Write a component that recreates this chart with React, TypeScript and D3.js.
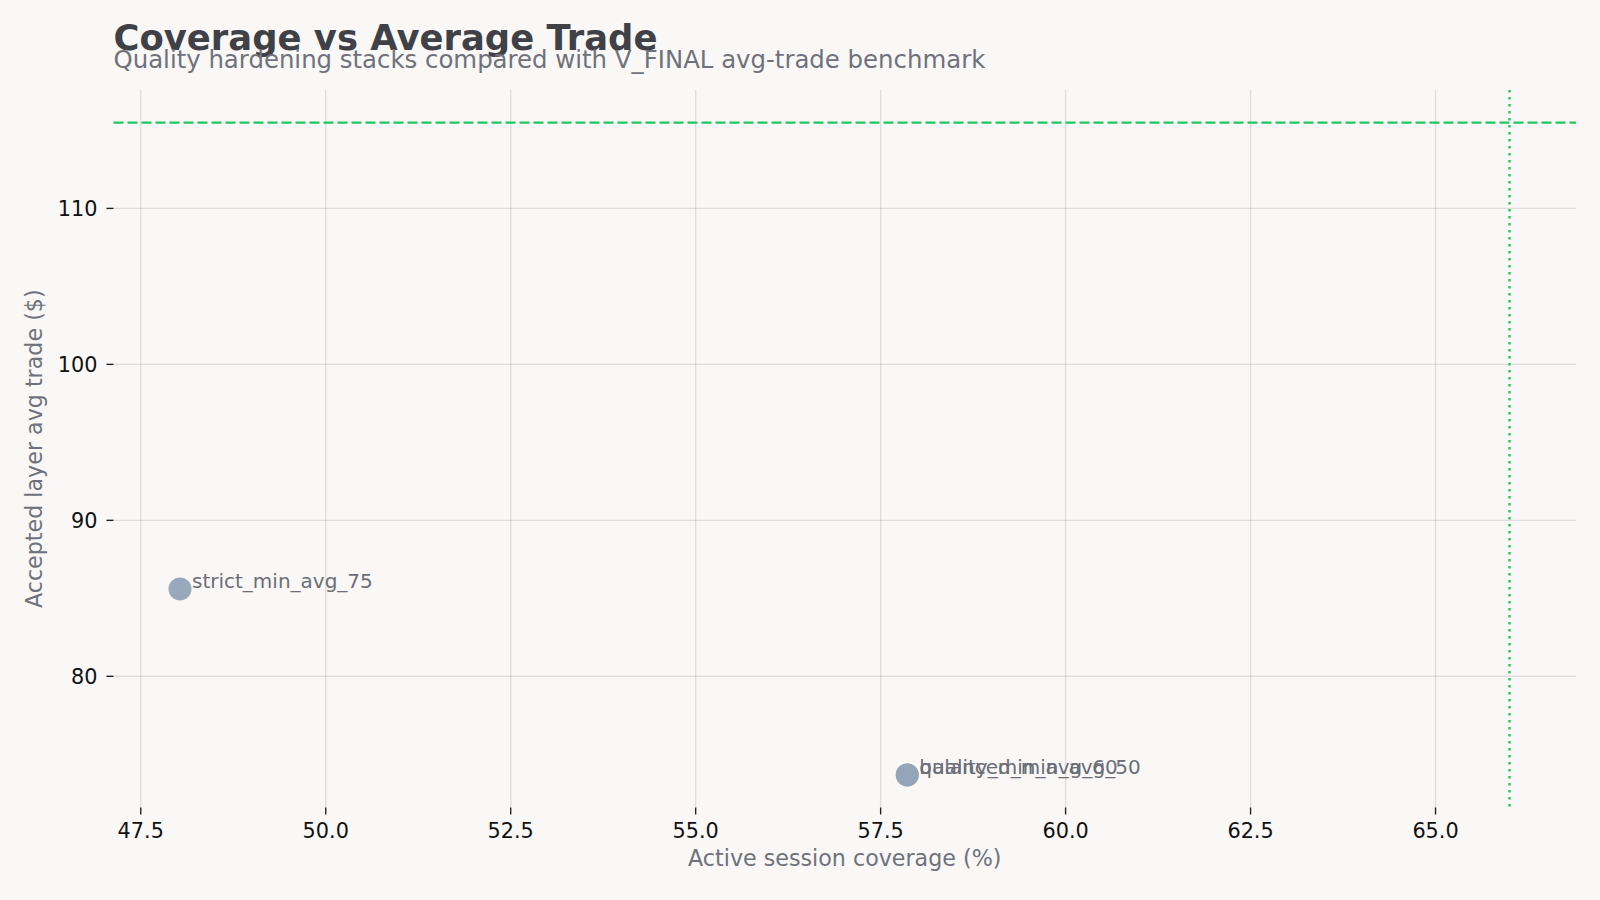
import * as d3 from 'd3';

// stacks and their coverage / avg-trade results
const stacks = ['strict_min_avg_75', 'balanced_min_avg_50', 'quality_min_avg_60'];
const coverage = [48.03, 57.86, 57.86];
const avgTrade = [85.6, 73.68, 73.68];

// V_FINAL benchmark
const benchmarkCoverage = 66.0;
const benchmarkAvgTrade = 115.5;

const xTicks = [47.5, 50, 52.5, 55, 57.5, 60, 62.5, 65];
const yTicks = [80, 90, 100, 110];

const W = 1600;
const H = 900;
const margin = { top: 90, right: 24, bottom: 92.5, left: 113.5 };
const font = '"DejaVu Sans", sans-serif';

function pad([lo, hi]: [number, number]): [number, number] {
  const m = (hi - lo) * 0.05;
  return [lo - m, hi + m];
}

export default function App() {
  const xExt = d3.extent([...coverage, benchmarkCoverage]) as [number, number];
  const yExt = d3.extent([...avgTrade, benchmarkAvgTrade]) as [number, number];

  const x = d3.scaleLinear().domain(pad(xExt)).range([margin.left, W - margin.right]);
  const y = d3.scaleLinear().domain(pad(yExt)).range([H - margin.bottom, margin.top]);

  const [x0, x1] = x.range();
  const [y1, y0] = y.range();

  return (
    <div style={{ position: 'fixed', left: 0, top: 0, width: W, height: H, background: '#f9f8f6' }}>
      <svg width={W} height={H} style={{ display: 'block', fontFamily: font }}>
        <rect width={W} height={H} fill="#f9f8f6" />

        <text x={113.5} y={50} fontSize={35.4} fontWeight="bold" fill="#3f4147">
          Coverage vs Average Trade
        </text>
        <text x={113.5} y={68.3} fontSize={24.4} fill="#6f727b">
          Quality hardening stacks compared with V_FINAL avg-trade benchmark
        </text>

        {/* grid */}
        {xTicks.map((t) => (
          <line key={`gx${t}`} x1={x(t)} x2={x(t)} y1={y0} y2={y1} stroke="#000" strokeOpacity={0.1} strokeWidth={1.4} />
        ))}
        {yTicks.map((t) => (
          <line key={`gy${t}`} x1={x0} x2={x1} y1={y(t)} y2={y(t)} stroke="#000" strokeOpacity={0.1} strokeWidth={1.4} />
        ))}

        {/* ticks */}
        {xTicks.map((t) => (
          <g key={`tx${t}`}>
            <line x1={x(t)} x2={x(t)} y1={y1} y2={y1 + 7} stroke="#222" strokeWidth={1.4} />
            <text x={x(t)} y={y1 + 30.5} textAnchor="middle" fontSize={20.8} fill="#111">
              {t.toFixed(1)}
            </text>
          </g>
        ))}
        {yTicks.map((t) => (
          <g key={`ty${t}`}>
            <line x1={x0 - 7} x2={x0} y1={y(t)} y2={y(t)} stroke="#222" strokeWidth={1.4} />
            <text x={x0 - 16} y={y(t)} dy="0.35em" textAnchor="end" fontSize={20.8} fill="#111">
              {t}
            </text>
          </g>
        ))}

        {/* axis labels */}
        <text x={(x0 + x1) / 2} y={866} textAnchor="middle" fontSize={22.2} fill="#6f727b">
          Active session coverage (%)
        </text>
        <text
          transform={`translate(42,${(y0 + y1) / 2}) rotate(-90)`}
          textAnchor="middle"
          fontSize={22.2}
          fill="#6f727b"
        >
          Accepted layer avg trade ($)
        </text>

        {/* benchmark lines */}
        <line
          x1={x0}
          x2={x1}
          y1={y(benchmarkAvgTrade)}
          y2={y(benchmarkAvgTrade)}
          stroke="#22c55e"
          strokeWidth={2.1}
          strokeDasharray="10 4"
        />
        <line
          x1={x(benchmarkCoverage)}
          x2={x(benchmarkCoverage)}
          y1={y0}
          y2={y1}
          stroke="#22c55e"
          strokeWidth={2.4}
          strokeDasharray="2.4 4.6"
        />

        {/* points */}
        {stacks.map((s, i) => (
          <g key={s}>
            <circle cx={x(coverage[i])} cy={y(avgTrade[i])} r={11.5} fill="#94a3b8" fillOpacity={0.95} />
            <text x={x(coverage[i]) + 12} y={y(avgTrade[i]) - 0.5} fontSize={20} fill="#6b6e76">
              {s}
            </text>
          </g>
        ))}
      </svg>
    </div>
  );
}
